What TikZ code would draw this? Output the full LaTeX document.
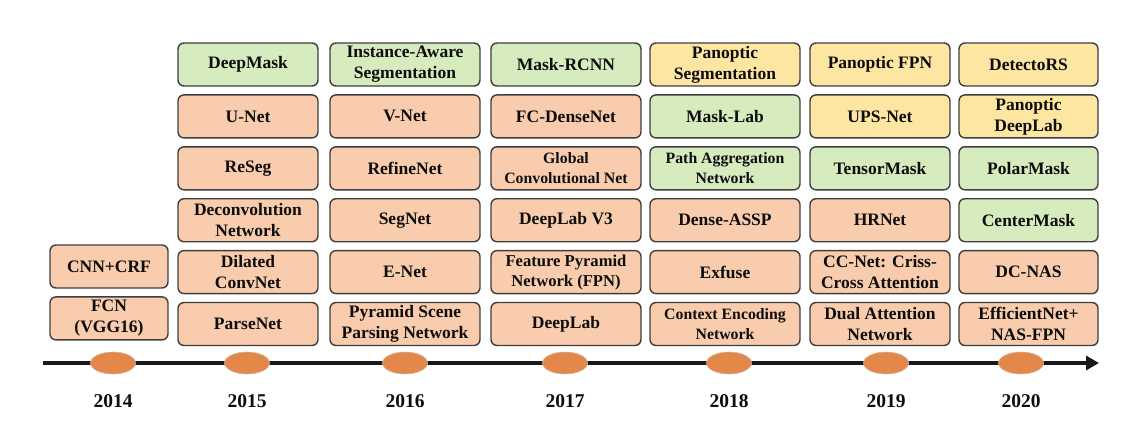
\documentclass[tikz,border=0pt]{standalone}
\usepackage{fontspec}
\setmainfont{Liberation Serif}
\usepackage{xcolor}
\usepackage{tikz}
\usetikzlibrary{positioning, arrows.meta, shapes.geometric}

\definecolor{boxorange}{RGB}{248,204,172}
\definecolor{boxgreen}{RGB}{214,235,190}
\definecolor{boxyellow}{RGB}{253,229,162}
\definecolor{dotorange}{RGB}{228,136,74}
\definecolor{edgegray}{RGB}{62,62,62}

\tikzset{
    box/.style={draw=edgegray, line width=1.4pt, rounded corners=6pt, minimum height=43pt,
        inner sep=1pt, align=center, text=black!95,
        font=\fontsize{17.5}{21}\selectfont\bfseries},
    semantic/.style={box, fill=boxorange},
    instance/.style={box, fill=boxgreen},
    panoptic/.style={box, fill=boxyellow},
    narrowtext/.style={font=\fontsize{15.8}{19.5}\selectfont\bfseries},
    yeardot/.style={ellipse, draw=dotorange!60!gray!60, line width=0.6pt, fill=dotorange,
        minimum width=45pt, minimum height=22pt, inner sep=0pt},
    yearlabel/.style={font=\fontsize{19.5}{20}\selectfont\bfseries, text=black!95}
}

\begin{document}
\begin{tikzpicture}[x=1pt, y=1pt]
    \useasboundingbox (0,0) rectangle (1140,-442);

    % 2014
    \node[semantic, minimum width=118pt] (cnncrf) at (109,-266.5) {CNN+CRF};
    \node[semantic, minimum width=118pt] (fcn) [below=7.5pt of cnncrf] {FCN\\(VGG16)};

    % 2015
    \node[instance, minimum width=140pt] (deepmask) at (248,-64.5) {DeepMask};
    \node[semantic, minimum width=140pt] (unet) [below=7.5pt of deepmask] {U-Net};
    \node[semantic, minimum width=140pt] (reseg) [below=7.5pt of unet] {ReSeg};
    \node[semantic, minimum width=140pt] (deconv) [below=7.5pt of reseg] {Deconvolution\\Network};
    \node[semantic, minimum width=140pt] (dilated) [below=7.5pt of deconv] {Dilated\\ConvNet};
    \node[semantic, minimum width=140pt] (parsenet) [below=7.5pt of dilated] {ParseNet};

    % 2016
    \node[instance, minimum width=150pt] (instaware) at (405,-64.5) {Instance-Aware\\Segmentation};
    \node[semantic, minimum width=150pt] (vnet) [below=7.5pt of instaware] {V-Net};
    \node[semantic, minimum width=150pt] (refinenet) [below=7.5pt of vnet] {RefineNet};
    \node[semantic, minimum width=150pt] (segnet) [below=7.5pt of refinenet] {SegNet};
    \node[semantic, minimum width=150pt] (enet) [below=7.5pt of segnet] {E-Net};
    \node[semantic, minimum width=150pt] (pspnet) [below=7.5pt of enet] {Pyramid Scene\\Parsing Network};

    % 2017
    \node[instance, minimum width=150pt] (maskrcnn) at (566,-64.5) {Mask-RCNN};
    \node[semantic, minimum width=150pt] (fcdense) [below=7.5pt of maskrcnn] {FC-DenseNet};
    \node[semantic, minimum width=150pt, narrowtext] (gcn) [below=7.5pt of fcdense] {Global\\Convolutional Net};
    \node[semantic, minimum width=150pt] (deeplabv3) [below=7.5pt of gcn] {DeepLab V3};
    \node[semantic, minimum width=150pt, font=\fontsize{16.6}{20}\selectfont\bfseries] (fpn) [below=7.5pt of deeplabv3] {Feature Pyramid\\Network (FPN)};
    \node[semantic, minimum width=150pt] (deeplab) [below=7.5pt of fpn] {DeepLab};

    % 2018
    \node[panoptic, minimum width=150pt] (panseg) at (725,-64.5) {Panoptic\\Segmentation};
    \node[instance, minimum width=150pt] (masklab) [below=7.5pt of panseg] {Mask-Lab};
    \node[instance, minimum width=150pt, narrowtext] (panet) [below=7.5pt of masklab] {Path Aggregation\\Network};
    \node[semantic, minimum width=150pt] (denseassp) [below=7.5pt of panet] {Dense-ASSP};
    \node[semantic, minimum width=150pt] (exfuse) [below=7.5pt of denseassp] {Exfuse};
    \node[semantic, minimum width=150pt, narrowtext] (encnet) [below=7.5pt of exfuse] {Context Encoding\\Network};

    % 2019
    \node[panoptic, minimum width=140pt] (panfpn) at (880,-64.5) {Panoptic FPN};
    \node[panoptic, minimum width=140pt] (upsnet) [below=7.5pt of panfpn] {UPS-Net};
    \node[instance, minimum width=140pt] (tensormask) [below=7.5pt of upsnet] {TensorMask};
    \node[semantic, minimum width=140pt] (hrnet) [below=7.5pt of tensormask] {HRNet};
    \node[semantic, minimum width=140pt] (ccnet) [below=7.5pt of hrnet] {CC-Net: Criss-\\Cross Attention};
    \node[semantic, minimum width=140pt] (danet) [below=7.5pt of ccnet] {Dual Attention\\Network};

    % 2020
    \node[panoptic, minimum width=139pt] (detectors) at (1028.5,-64.5) {DetectoRS};
    \node[panoptic, minimum width=139pt] (pandeeplab) [below=7.5pt of detectors] {Panoptic\\DeepLab};
    \node[instance, minimum width=139pt] (polarmask) [below=7.5pt of pandeeplab] {PolarMask};
    \node[instance, minimum width=139pt] (centermask) [below=7.5pt of polarmask] {CenterMask};
    \node[semantic, minimum width=139pt] (dcnas) [below=7.5pt of centermask] {DC-NAS};
    \node[semantic, minimum width=139pt] (effnet) [below=7.5pt of dcnas] {EfficientNet+\\NAS-FPN};

    % timeline
    \coordinate (tstart) at (43,-363);
    \coordinate (tend) at (1099,-363);
    \draw[line width=4pt, black!90, -{Triangle[length=13pt,width=14pt]}] (tstart) -- (tend);

    \foreach \yr/\cx in {2014/113, 2015/247, 2016/405, 2017/565, 2018/729, 2019/886, 2020/1021} {
        \node[yeardot] (dot\yr) at (\cx,-363) {};
        \node[yearlabel] (lbl\yr) at (\cx,-401) {\yr};
    }
\end{tikzpicture}
\end{document}
